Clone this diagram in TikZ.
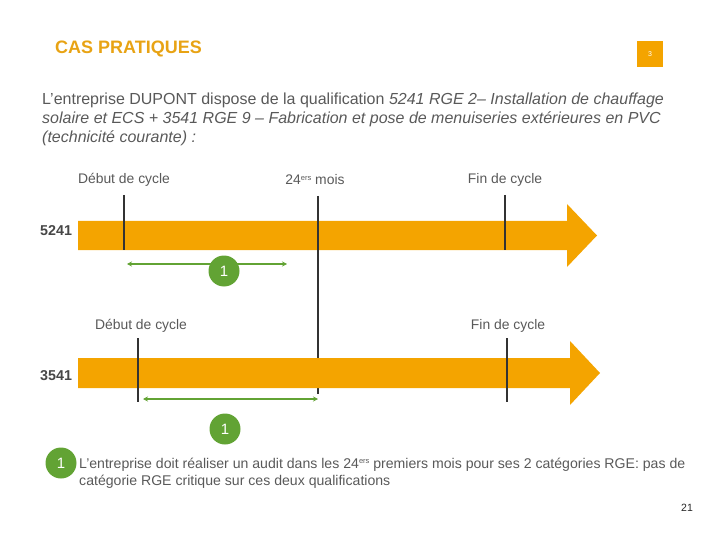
\documentclass[tikz,border=0pt]{standalone}
\usepackage{fontspec}
\setmainfont{Liberation Sans}
\usetikzlibrary{arrows.meta}
\definecolor{orng}{RGB}{244,164,0}
\definecolor{ttl}{RGB}{232,163,20}
\definecolor{grn}{RGB}{98,163,52}
\definecolor{txt}{RGB}{89,89,89}
\definecolor{tick}{RGB}{51,51,51}
\newcommand{\sups}[1]{\raisebox{0.55ex}{\fontsize{7.5}{7.5}\selectfont #1}}
\tikzset{
  bar/.style={fill=orng,draw=none},
  ticks/.style={draw=tick,line width=2.6pt},
  thin/.style={draw=tick,line width=1.3pt},
  lab/.style={text=txt,font=\fontsize{13.9}{15}\selectfont,inner sep=0pt},
  para/.style={text=txt,font=\fontsize{16}{19}\selectfont,inner sep=0pt,anchor=base west},
  code/.style={text=txt!80!black,font=\bfseries\fontsize{14.3}{15}\selectfont,inner sep=0pt,anchor=west},
  gline/.style={draw=grn,line width=1.8pt,{Stealth[length=5pt,width=5pt]}-{Stealth[length=5pt,width=5pt]}},
  gcirc/.style={circle,fill=grn,minimum size=31pt,inner sep=0pt,text=white,font=\fontsize{15}{15}\selectfont}
}
\begin{document}
\begin{tikzpicture}[x=1pt,y=-1pt]
\useasboundingbox (0,0) rectangle (720,540);
% header
\node[anchor=west,inner sep=0pt,text=ttl,font=\bfseries\fontsize{18}{20}\selectfont] (title) at (55,49) {CAS PRATIQUES};
\node[fill=orng,minimum width=26pt,minimum height=26pt,inner sep=0pt,text=white,font=\fontsize{7}{7}\selectfont] (pg) at (650,54) {3};
% paragraph
\node[para] (p1) at (42,105) {L'entreprise DUPONT dispose de la qualification \textit{5241 RGE 2– Installation de chauffage}};
\node[para] (p2) at (42,124) {\textit{solaire et ECS + 3541 RGE 9 – Fabrication et pose de menuiseries extérieures en PVC}};
\node[para] (p3) at (42,143) {\textit{(technicité courante) :}};
% upper timeline
\node[lab] (d1) at (124,180) {Début de cycle};
\node[lab] (m1) at (315,180) {24\sups{ers} mois};
\node[lab] (f1) at (505,180) {Fin de cycle};
\node[code] (c1) at (40,231) {5241};
\path[bar] (78,221) -- (567,221) -- (567,204) -- (597,235.5) -- (567,267) -- (567,250) -- (78,250) -- cycle;
\draw[ticks] (124,195) -- (124,250);
\draw[ticks] (505,195) -- (505,250);
\draw[ticks] (318,196) -- (318,266);
\draw[thin] (318,266) -- (318,394);
% lower timeline
\node[lab] (d2) at (141,326) {Début de cycle};
\node[lab] (f2) at (508,326) {Fin de cycle};
\node[code] (c2) at (40,376) {3541};
\path[bar] (78,358) -- (570,358) -- (570,341) -- (600,373) -- (570,405) -- (570,388) -- (78,388) -- cycle;
\draw[ticks] (138,338) -- (138,402);
\draw[ticks] (507,338) -- (507,402);
% green arrows
\coordinate (a1) at (127,264);
\coordinate (b1) at (287,264);
\draw[gline] (a1) -- (b1);
\node[gcirc] (g1) at (224,271) {1};
\coordinate (a2) at (143,399);
\coordinate (b2) at (318,399);
\draw[gline] (a2) -- (b2);
\node[gcirc] (g2) at (225,429) {1};
% legend
\node[gcirc] (g3) at (61,463) {1};
\node[para,font=\fontsize{14.1}{17}\selectfont] (l1) at (79,468) {L'entreprise doit réaliser un audit dans les 24\sups{ers} premiers mois pour ses 2 catégories RGE: pas de};
\node[para,font=\fontsize{14.1}{17}\selectfont] (l2) at (79,485) {catégorie RGE critique sur ces deux qualifications};
\node[inner sep=0pt,text=black!85,font=\fontsize{10.5}{12}\selectfont] (pn) at (687,508) {21};
\end{tikzpicture}
\end{document}
